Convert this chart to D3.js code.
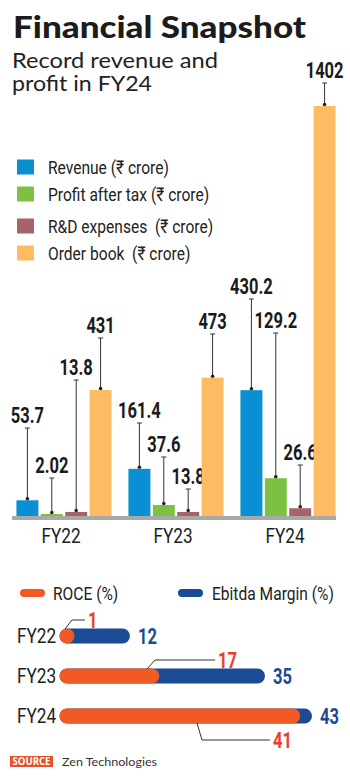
<!DOCTYPE html>
<html>
<head>
<meta charset="utf-8">
<script src="https://cdn.jsdelivr.net/npm/d3@7"></script>
<style>
  body { margin: 0; background: #fff; }
  svg { display: block; }
  .narrow { font-family: Roboto, "DejaVu Sans", sans-serif; }
</style>
</head>
<body>
<svg id="chart" width="350" height="783"></svg>
<script>
// ---- data ----
const years = ['FY22', 'FY23', 'FY24'];
const series = ['Revenue', 'Profit', 'RnD', 'OrderBook'];
const seriesLabels = ['Revenue (\u20B9 crore)', 'Profit after tax (\u20B9 crore)', 'R&D expenses  (\u20B9 crore)', 'Order book   (\u20B9 crore)'];
const revenue = [53.7, 161.4, 430.2];
const profit = [2.02, 37.6, 129.2];
const rnd = [13.8, 13.8, 26.6];
const orderBook = [431, 473, 1402];
const roce = [1, 17, 41];
const ebitda = [12, 35, 43];

const colors = {
    'Revenue': '#0b8fd3',
    'Profit': '#7dc143',
    'RnD': '#a6636a',
    'OrderBook': '#fdbc64'
};
const roceColor = '#f15a24';
const ebitdaColor = '#1b4b94';

// leader line tops for bar labels (layout, per year then per series)
const leaderTop = [
    [428, 478, 380, 338],
    [423, 457, 489, 334],
    [299, 333, 465, 83]
];

// squeeze text horizontally around its x anchor (no condensed font installed)
function condense(sel, k) {
    sel.each(function() {
        let x = +d3.select(this).attr('x');
        d3.select(this).attr('transform', 'translate(' + (x * (1 - k)) + ',0) scale(' + k + ',1)');
    });
}

const svg = d3.select('svg#chart');

// ---- title ----
svg.append('text')
    .attr('x', 13).attr('y', 38)
    .attr('textLength', 293).attr('lengthAdjust', 'spacingAndGlyphs')
    .style('font-family', 'Lato, "Open Sans", sans-serif')
    .style('font-weight', 900).style('font-size', '30px')
    .style('fill', '#1c1c1c')
    .text('Financial Snapshot');
svg.append('text')
    .attr('x', 12).attr('y', 68)
    .attr('textLength', 206).attr('lengthAdjust', 'spacingAndGlyphs')
    .style('font-family', 'Lato, "Open Sans", sans-serif')
    .style('font-size', '21px').style('fill', '#222')
    .text('Record revenue and');
svg.append('text')
    .attr('x', 12).attr('y', 91)
    .attr('textLength', 140).attr('lengthAdjust', 'spacingAndGlyphs')
    .style('font-family', 'Lato, "Open Sans", sans-serif')
    .style('font-size', '21px').style('fill', '#222')
    .text('profit in FY24');

// ---- legend ----
let legend = svg.append('g').attr('class', 'narrow');
seriesLabels.forEach((t, i) => {
    let yy = [167, 194, 226, 253][i];
    legend.append('rect')
        .attr('x', 17).attr('y', yy - 7.5)
        .attr('width', 17).attr('height', 15)
        .style('fill', colors[series[i]]);
    legend.append('text')
        .attr('x', 48).attr('y', yy + 7)
        .style('font-size', '19px').style('fill', '#222')
        .text(t.replace(/  /g, '\u00A0 '));
});
condense(legend.selectAll('text'), 0.82);

// ---- bar chart ----
const baseY = 516;
let x0 = d3.scaleBand().domain(years).range([8, 344]).paddingInner(0).paddingOuter(0);
let x1 = d3.scaleBand().domain(series).range([6, 106]).padding(0.1);
let y = d3.scaleLinear().domain([0, 1402]).range([baseY, 106]);

let rows = [];
years.forEach((yr, i) => {
    [revenue[i], profit[i], rnd[i], orderBook[i]].forEach((v, j) => {
        rows.push({year: yr, key: series[j], value: v, top: leaderTop[i][j]});
    });
});

let bars = svg.append('g');
let groups = bars.selectAll('g')
    .data(rows)
    .enter()
    .append('g')
    .attr('transform', d => 'translate(' + (x0(d.year) + x1(d.key)) + ',0)');

groups.append('rect')
    .attr('x', 0)
    .attr('width', x1.bandwidth())
    .attr('y', d => Math.min(y(d.value), baseY - 2))
    .attr('height', d => Math.max(baseY - y(d.value), 2))
    .style('fill', d => colors[d.key]);

let cx = x1.bandwidth() / 2;
groups.append('line')
    .attr('x1', cx).attr('x2', cx)
    .attr('y1', d => d.top)
    .attr('y2', d => Math.min(y(d.value), baseY - 2) - 1)
    .style('stroke', '#333').style('stroke-width', 1);
groups.append('line')
    .attr('x1', cx - 2.5).attr('x2', cx + 2.5)
    .attr('y1', d => d.top).attr('y2', d => d.top)
    .style('stroke', '#333').style('stroke-width', 1);
groups.append('circle')
    .attr('cx', cx)
    .attr('cy', d => Math.min(y(d.value), baseY - 2) - 1.5)
    .attr('r', 1.8)
    .style('fill', '#222');
let valLabels = groups.append('text')
    .attr('class', 'narrow')
    .attr('x', cx)
    .attr('y', d => d.top - 5)
    .attr('text-anchor', 'middle')
    .style('font-size', '22px').style('font-weight', 'bold')
    .style('fill', '#1a1a1a')
    .text(d => d.value);
condense(valLabels, 0.75);

// axis line + year labels
svg.append('rect')
    .attr('x', 12).attr('y', baseY).attr('width', 324).attr('height', 4)
    .style('fill', '#a9a9a9');
let yearLabels = svg.append('g').selectAll('text')
    .data(years)
    .enter()
    .append('text')
    .attr('class', 'narrow')
    .attr('x', d => x0(d) + x1.range()[0] + 47)
    .attr('y', 543)
    .attr('text-anchor', 'middle')
    .style('font-size', '21px').style('fill', '#222')
    .text(d => d);
condense(yearLabels, 0.82);

// ---- ROCE / Ebitda chart ----
let lg = svg.append('g').attr('class', 'narrow');
lg.append('rect').attr('x', 20).attr('y', 589).attr('width', 25).attr('height', 8).attr('rx', 4)
    .style('fill', roceColor);
lg.append('text').attr('x', 53).attr('y', 600).style('font-size', '19px').style('fill', '#222')
    .text('ROCE (%)');
lg.append('rect').attr('x', 178).attr('y', 589).attr('width', 25).attr('height', 8).attr('rx', 4)
    .style('fill', ebitdaColor);
lg.append('text').attr('x', 212).attr('y', 600).style('font-size', '19px').style('fill', '#222')
    .text('Ebitda Margin (%)');
condense(lg.selectAll('text'), 0.82);

const pillH = 15;
let hx = d3.scaleLinear().domain([0, 43]).range([59.5, 312]);
let hy = d3.scalePoint().domain(years).range([636, 716]);

let hrows = years.map((yr, i) => ({year: yr, roce: roce[i], ebitda: ebitda[i]}));
let hb = svg.append('g');
let hg = hb.selectAll('g').data(hrows).enter().append('g');

condense(hg.append('text')
    .attr('class', 'narrow')
    .attr('x', 17).attr('y', d => hy(d.year) + 7.5)
    .style('font-size', '21px').style('fill', '#222')
    .text(d => d.year), 0.82);
hg.append('rect')
    .attr('x', hx(0)).attr('y', d => hy(d.year) - pillH / 2)
    .attr('width', d => Math.max(hx(d.ebitda) - hx(0), pillH))
    .attr('height', pillH).attr('rx', pillH / 2)
    .style('fill', ebitdaColor);
hg.append('rect')
    .attr('x', hx(0)).attr('y', d => hy(d.year) - pillH / 2)
    .attr('width', d => Math.max(hx(d.roce) - hx(0), pillH))
    .attr('height', pillH).attr('rx', pillH / 2)
    .style('fill', roceColor);
condense(hg.append('text')
    .attr('class', 'narrow')
    .attr('x', d => hx(d.ebitda) + 8).attr('y', d => hy(d.year) + 8)
    .style('font-size', '22px').style('font-weight', 'bold')
    .style('fill', ebitdaColor)
    .text(d => d.ebitda), 0.75);

// ROCE value labels with leader lines (anchor x, kink, label position)
const roceLeader = [
    {ax: 65, ay: -7, kx: 72, ky: 620, ex: 85},
    {ax: 147, ay: -7, kx: 155, ky: 660, ex: 215},
    {ax: 197, ay: 7, kx: 202, ky: 740, ex: 270}
];
hg.append('path')
    .attr('d', (d, i) => {
        let L = roceLeader[i];
        return 'M' + L.ax + ',' + (hy(d.year) + L.ay) + 'L' + L.kx + ',' + L.ky + 'H' + L.ex;
    })
    .style('fill', 'none').style('stroke', '#333').style('stroke-width', 1);
condense(hg.append('text')
    .attr('class', 'narrow')
    .attr('x', (d, i) => roceLeader[i].ex + 3)
    .attr('y', (d, i) => roceLeader[i].ky + 8)
    .style('font-size', '22px').style('font-weight', 'bold')
    .style('fill', '#e8402a')
    .text(d => d.roce), 0.75);

// ---- source ----
svg.append('rect').attr('x', 10).attr('y', 756).attr('width', 43).attr('height', 11)
    .style('fill', '#e8502a');
svg.append('text').attr('x', 31.5).attr('y', 765).attr('text-anchor', 'middle')
    .attr('textLength', 38).attr('lengthAdjust', 'spacingAndGlyphs')
    .style('font-family', '"Open Sans", sans-serif').style('font-weight', 'bold')
    .style('font-size', '10px').style('fill', '#fff')
    .text('SOURCE');
svg.append('text').attr('x', 62).attr('y', 766)
    .attr('textLength', 95).attr('lengthAdjust', 'spacingAndGlyphs')
    .style('font-family', 'Lato, "Open Sans", sans-serif')
    .style('font-size', '12px').style('fill', '#333')
    .text('Zen Technologies');
</script>
</body>
</html>
